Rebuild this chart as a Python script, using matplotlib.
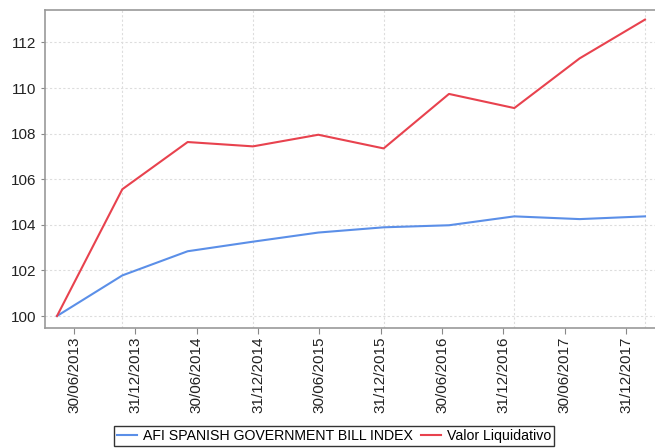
import numpy as np
import matplotlib.pyplot as plt

# fechas semestrales y valores
fechas = ["30/06/2013", "31/12/2013", "30/06/2014", "31/12/2014", "30/06/2015",
          "31/12/2015", "30/06/2016", "31/12/2016", "30/06/2017", "31/12/2017"]
indice = [100.0, 101.78, 102.84, 103.26, 103.66, 103.89, 103.98, 104.37, 104.25, 104.37]
valor_liq = [100.0, 105.56, 107.63, 107.44, 107.95, 107.35, 109.74, 109.12, 111.3, 113.0]

plt.rcParams['font.family'] = ['Liberation Sans', 'DejaVu Sans']

fig = plt.figure(figsize=(6.55, 4.48), dpi=100)
W, H = 655, 448
ax = fig.add_axes([45 / W, (H - 328) / H, 620 / W, 318 / H])

x = np.arange(len(fechas))
ax.plot(x, indice, color='#5b8fe8', lw=1.5, label='AFI SPANISH GOVERNMENT BILL INDEX')
ax.plot(x, valor_liq, color='#e8424e', lw=1.5, label='Valor Liquidativo')

step = 65.33  # pixeles por punto
ax.set_xlim(-12 / step, (665 - 57) / step)
ax.set_ylim(100 - 12 / 22.8, 100 + 306 / 22.8)

# etiquetas del eje x desplazadas como en el original
ax.set_xticks((17 + 61.35 * x) / step)
ax.set_xticklabels(fechas, rotation=90, fontsize=11, color='#222222')
ax.set_yticks(np.arange(100, 113, 2))
ax.tick_params(axis='y', labelsize=11, colors='#888888', labelcolor='#222222', length=3, width=0.8)
ax.tick_params(axis='x', colors='#888888', labelcolor='#222222', length=4, width=0.8, pad=2)

for xv in x[1::2]:
    ax.axvline(xv, color='#dddddd', lw=0.8, ls=(0, (2, 2)), zorder=0)
for yv in np.arange(100, 113, 2):
    ax.axhline(yv, color='#dddddd', lw=0.8, ls=(0, (2, 2)), zorder=0)

for s in ['top', 'left', 'bottom']:
    ax.spines[s].set_color('#999999')
    ax.spines[s].set_linewidth(1.2)
ax.spines['right'].set_visible(False)

leg = fig.legend(loc='center', bbox_to_anchor=(334 / W, (H - 436) / H), ncol=2,
                 fontsize=10.2, frameon=True, fancybox=False, handlelength=1.4,
                 handletextpad=0.4, columnspacing=0.6, borderpad=0.2,
                 borderaxespad=0)
leg.get_frame().set_edgecolor('black')
leg.get_frame().set_linewidth(1.0)

fig.savefig('out.png', dpi=100)
